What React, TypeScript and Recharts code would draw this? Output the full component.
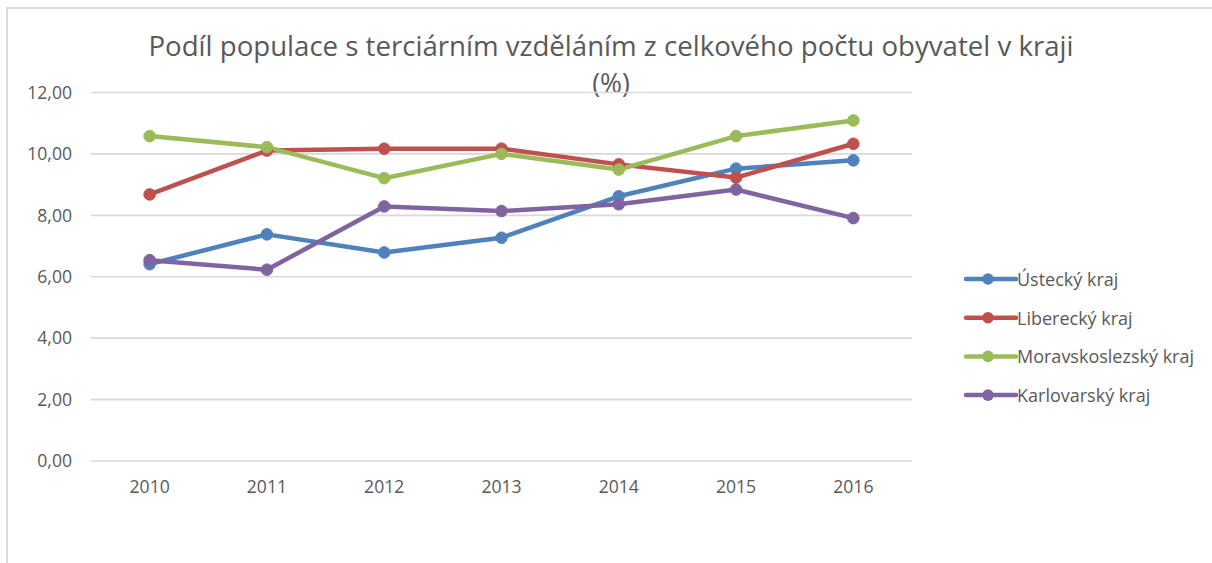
import React from 'react';
import { LineChart, Line, XAxis, YAxis, CartesianGrid, Legend } from 'recharts';

const years = ['2010', '2011', '2012', '2013', '2014', '2015', '2016'];
const ustecky = [6.41, 7.38, 6.79, 7.27, 8.62, 9.52, 9.79];
const liberecky = [8.68, 10.11, 10.17, 10.17, 9.66, 9.23, 10.33];
const moravskoslezsky = [10.58, 10.22, 9.21, 10.0, 9.49, 10.58, 11.09];
const karlovarsky = [6.54, 6.23, 8.29, 8.14, 8.36, 8.84, 7.91];
const yTicks = [0, 2, 4, 6, 8, 10, 12];

const seriesNames = ['Ústecký kraj', 'Liberecký kraj', 'Moravskoslezský kraj', 'Karlovarský kraj'];
const seriesKeys = ['u', 'l', 'm', 'k'];
const seriesColors = ['#4F81BD', '#C0504D', '#9BBB59', '#8064A2'];

const data = years.map((y, i) => ({
  year: y,
  u: ustecky[i],
  l: liberecky[i],
  m: moravskoslezsky[i],
  k: karlovarsky[i],
}));

const FONT = "'Open Sans', sans-serif";
const TXT = '#595959';

const LegendContent = () => (
  <svg width={250} height={160} style={{ display: 'block' }}>
    {seriesNames.map((name, i) => {
      const cy = 19 + i * 38.7;
      return (
        <g key={name}>
          <line x1={6} x2={56} y1={cy} y2={cy} stroke={seriesColors[i]} strokeWidth={4.5} strokeLinecap="round" />
          <circle cx={28} cy={cy} r={5.8} fill={seriesColors[i]} />
          <text x={57} y={cy} dominantBaseline="central" fontFamily={FONT} fontSize={18} fill={TXT}>
            {name}
          </text>
        </g>
      );
    })}
  </svg>
);

export default function App() {
  return (
    <div style={{ position: 'absolute', left: 0, top: 0, width: 1212, height: 563, background: '#fff', overflow: 'hidden' }}>
      <div
        style={{
          position: 'absolute',
          left: 6,
          top: 7,
          width: 1300,
          height: 700,
          borderTop: '2px solid #d9d9d9',
          borderLeft: '2px solid #d9d9d9',
        }}
      />
      <svg style={{ position: 'absolute', left: 0, top: 0 }} width={1212} height={110}>
        <text x={611} y={56} textAnchor="middle" fontFamily={FONT} fontSize={26.5} fill={TXT} textLength={925} lengthAdjust="spacingAndGlyphs">
          Podíl populace s terciárním vzděláním z celkového počtu obyvatel v kraji
        </text>
        <text x={611} y={93} textAnchor="middle" fontFamily={FONT} fontSize={26.5} fill={TXT}>
          (%)
        </text>
      </svg>
      <div style={{ position: 'absolute', left: 0, top: 0 }}>
        <LineChart width={1212} height={563} data={data} margin={{ top: 92.5, right: 50, left: 0, bottom: 72 }}>
          <CartesianGrid horizontal vertical={false} stroke="#d9d9d9" strokeWidth={1.6} />
          <XAxis
            dataKey="year"
            height={30}
            axisLine={false}
            tickLine={false}
            tickSize={0}
            tickMargin={20}
            padding={{ left: 58.65, right: 58.65 }}
            tick={{ fill: TXT, fontSize: 17.6, fontFamily: FONT }}
            interval={0}
          />
          <YAxis
            width={91}
            domain={[0, 12]}
            ticks={yTicks}
            axisLine={false}
            tickLine={false}
            tickSize={0}
            tickMargin={19}
            tickFormatter={(v: number) => v.toFixed(2).replace('.', ',')}
            tick={{ fill: TXT, fontSize: 17.6, fontFamily: FONT }}
            interval={0}
          />
          <Legend
            layout="vertical"
            align="right"
            verticalAlign="middle"
            content={LegendContent}
            wrapperStyle={{ position: 'absolute', left: 960, top: 260, width: 250, height: 160 }}
          />
          {seriesKeys.map((k, i) => (
            <Line
              key={k}
              dataKey={k}
              name={seriesNames[i]}
              stroke={seriesColors[i]}
              strokeWidth={4.5}
              dot={{ r: 5.8, fill: seriesColors[i], stroke: seriesColors[i], strokeWidth: 1 }}
              activeDot={false}
              isAnimationActive={false}
              strokeLinejoin="round"
            />
          ))}
        </LineChart>
      </div>
    </div>
  );
}
